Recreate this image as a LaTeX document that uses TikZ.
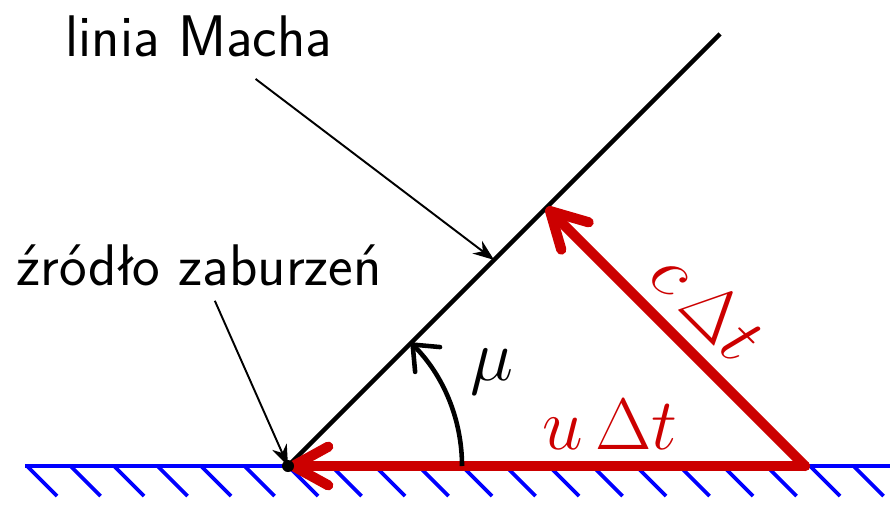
\documentclass[tikz,border=0pt]{standalone}
\usepackage{fontspec}
\usepackage{amsmath}
\usetikzlibrary{calc,positioning,arrows.meta}
\definecolor{darkred}{RGB}{204,0,0}

\begin{document}
\begin{tikzpicture}[lbl/.style={font=\sffamily\fontsize{16.7}{20}\selectfont, inner sep=1pt}, sym/.style={font=\fontsize{20}{24}\selectfont, inner sep=1pt}]
\tikzstyle{vec}=[draw=darkred, line width=2.9pt, line cap=round, -{Straight Barb[round,length=10pt,width=11pt]}]
\tikzstyle{lead}=[draw, line width=0.55pt, -{Stealth[length=6pt,width=4.5pt]}]
\tikzstyle{hatch}=[draw=blue, line width=1.1pt]
\useasboundingbox (0,0) rectangle (8.9,5.05);
% punkty
\coordinate (s) at (2.88,0.39);
\coordinate (m) at (7.20,4.71);
\coordinate (p) at (8.05,0.39);
\coordinate (q) at ($(s)!(p)!(m)$);
\coordinate (w) at ($(s)!0.477!(m)$);
\coordinate (wl) at (0.25,0.39);
\coordinate (wr) at (8.9,0.39);
% sciana
\draw[blue, line width=1.3pt] (wl) -- (wr);
\foreach \k in {0,...,19}{\draw[hatch] ($(0.27,0.39)+(0.435*\k,0)$) -- ++(0.3,-0.3);}
% linia Macha
\draw[line width=1.3pt] (s) -- (m);
\draw[vec] (p) -- (s);
\draw[vec] (p) -- (q);
\fill (s) circle (0.06);
\draw[line width=1.3pt, -{Straight Barb[round,length=6pt,width=10pt]}] ($(s)+(1.74,0)$) arc[start angle=0, end angle=45, radius=1.74];
% opisy
\node[lbl] (mach) at (1.99,4.69) {linia Macha};
\node[lbl] (src) at (1.99,2.40) {źródło zaburzeń};
\node[sym] (mu) at (4.92,1.33) {$\mu$};
\node[sym, text=darkred] (ut) at (6.10,0.80) {$u\,\Delta t$};
\node[sym, text=darkred, rotate=-45] (ct) at (7.08,2.00) {$c\,\Delta t$};
\draw[lead, shorten <=0.3cm] (mach) -- (w);
\draw[lead, shorten <=0.12cm] (src) -- (s);
\end{tikzpicture}
\end{document}
